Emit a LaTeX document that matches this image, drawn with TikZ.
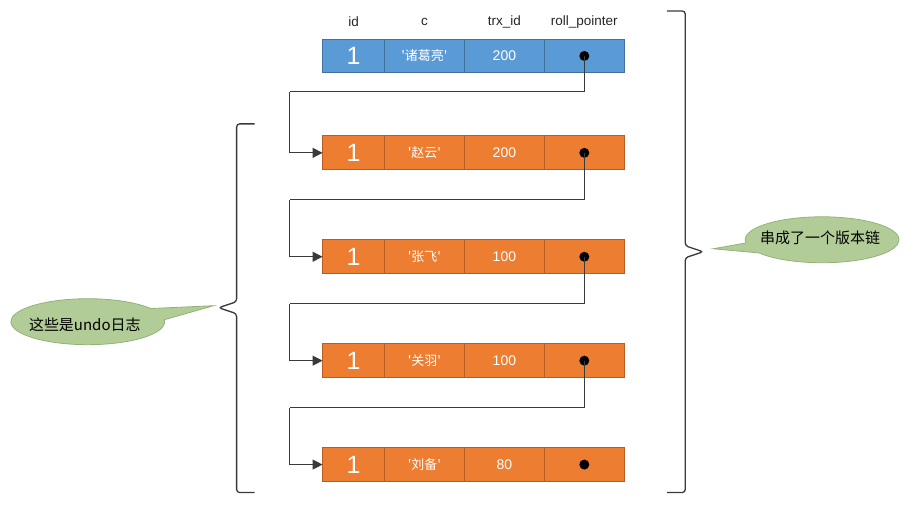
\documentclass[tikz,border=0pt]{standalone}
\usepackage{fontspec}
\setmainfont{Liberation Sans}
\newfontfamily\cjk{Noto Sans CJK SC}
\usetikzlibrary{arrows.meta,calc}
\definecolor{cellblue}{HTML}{5B9BD5}
\definecolor{edgeblue}{HTML}{41719C}
\definecolor{cellorange}{HTML}{ED7D31}
\definecolor{edgeorange}{HTML}{B85E22}
\definecolor{bubblefill}{HTML}{B2CC98}
\definecolor{bubbleedge}{HTML}{93B27A}
\definecolor{linegray}{HTML}{3A3A3A}
\begin{document}
\begin{tikzpicture}[x=1pt,y=-1pt,
  cell/.style={draw, line width=0.9pt, minimum height=34pt, inner sep=0pt, outer sep=0pt, text=white, anchor=west},
  idcell/.style={cell, minimum width=62pt, font=\fontsize{25}{25}\selectfont},
  wcell/.style={cell, minimum width=80pt, font=\fontsize{14}{14}\selectfont},
  ccell/.style={cell, minimum width=80pt, font=\cjk\fontsize{13}{13}\selectfont},
  bluerow/.style={fill=cellblue, draw=edgeblue},
  orangerow/.style={fill=cellorange, draw=edgeorange},
  ptr/.style={circle, fill=black, inner sep=0pt, minimum size=10pt},
  head/.style={font=\fontsize{13.5}{13.5}\selectfont, text=black!85},
  link/.style={draw=linegray, line width=1.1pt},
  linkarrow/.style={link, -{Triangle[length=10pt,width=10pt]}},
  brace/.style={draw=linegray, line width=1.3pt, rounded corners=3pt},
  bubble/.style={fill=bubblefill, draw=bubbleedge, line width=0.8pt},
  bubbletext/.style={font=\cjk\fontsize{15}{15}\selectfont, text=black}]
\fill[white] (0,0) rectangle (914,524);

% headers
\node[head] (hid) at (353,22) {id};
\node[head] (hc) at (424,22) {c};
\node[head] (htrx) at (504,22) {trx\_id};
\node[head] (hrp) at (584,22) {roll\_pointer};

% rows
\foreach \r/\y/\name/\trx/\sty in {0/56/诸葛亮/200/bluerow, 1/153/赵云/200/orangerow, 2/257/张飞/100/orangerow, 3/361/关羽/100/orangerow, 4/465/刘备/80/orangerow}{
  \node[idcell,\sty] (r\r a) at (322,\y) {1};
  \node[ccell,\sty] (r\r b) at (r\r a.east) {'\name'};
  \node[wcell,\sty] (r\r c) at (r\r b.east) {\trx};
  \node[wcell,\sty] (r\r d) at (r\r c.east) {};
  \node[ptr] (p\r) at (r\r d.center) {};
}

% connectors
\coordinate (k0) at (289,92);
\coordinate (k1) at (289,200);
\coordinate (k2) at (289,304);
\coordinate (k3) at (289,408);
\draw[link] (p0.center) |- (k0);
\draw[linkarrow] (k0) |- (r1a.west);
\draw[link] (p1.center) |- (k1);
\draw[linkarrow] (k1) |- (r2a.west);
\draw[link] (p2.center) |- (k2);
\draw[linkarrow] (k2) |- (r3a.west);
\draw[link] (p3.center) |- (k3);
\draw[linkarrow] (k3) |- (r4a.west);

% left brace
\draw[brace] (254,124) -- (236,124) -- (236,302) -- (218,308) -- (236,314) -- (236,493) -- (254,493);
% right brace
\draw[brace] (667,11) -- (685,11) -- (685,246) -- (703,252) -- (685,258) -- (685,493) -- (667,493);

% left bubble
\coordinate (lc) at (87,322);
\coordinate (ltip) at (213,306);
\path[bubble] ($(lc)+(35:77pt and 23pt)$) arc[start angle=35, end angle=365, x radius=77pt, y radius=23pt] -- (ltip) -- cycle;
\node[bubbletext] (lt) at (84,325) {这些是undo日志};

% right bubble
\coordinate (rc) at (822,240);
\coordinate (rtip) at (713,249);
\path[bubble] ($(rc)+(215:77pt and 23pt)$) arc[start angle=215, end angle=548, x radius=77pt, y radius=23pt] -- (rtip) -- cycle;
\node[bubbletext] (rt) at (820,238) {串成了一个版本链};
\end{tikzpicture}
\end{document}
